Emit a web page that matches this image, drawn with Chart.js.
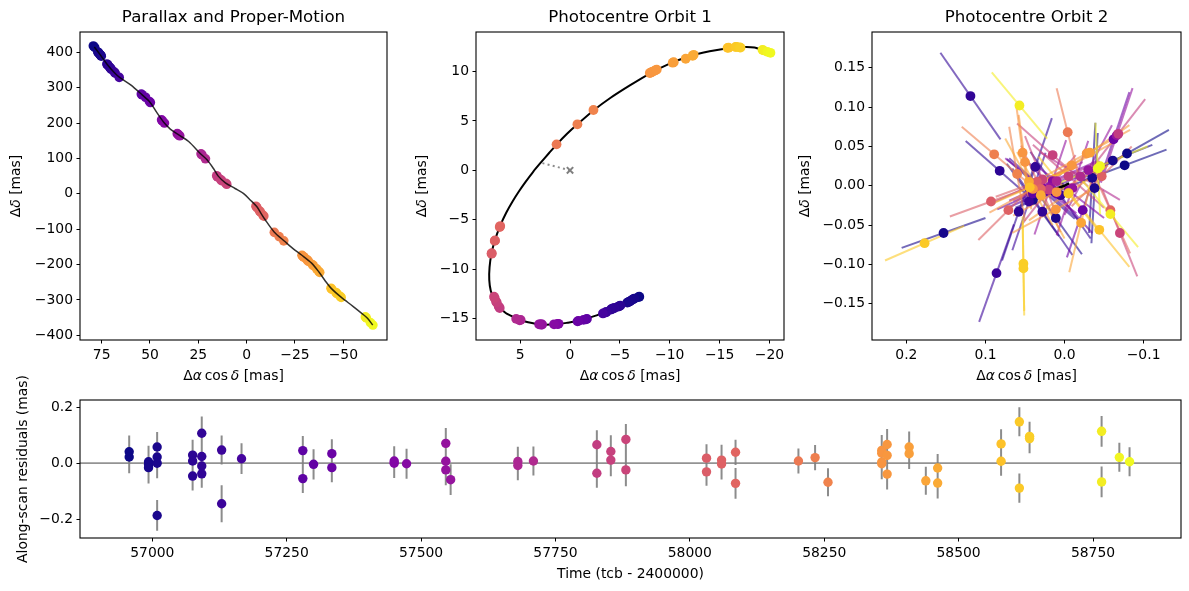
<!DOCTYPE html>
<html><head><meta charset="utf-8">
<script src="https://cdn.jsdelivr.net/npm/chart.js@4.4.1/dist/chart.umd.min.js"></script>
<style>
body{margin:0;background:#fff;width:1189px;height:591px;position:relative;overflow:hidden}
canvas{position:absolute}
</style></head><body>
<canvas id="p4" width="1185" height="228" style="left:4px;top:360px"></canvas>
<canvas id="p1" width="403" height="390" style="left:4px;top:0px"></canvas>
<canvas id="p2" width="394" height="390" style="left:410px;top:0px"></canvas>
<canvas id="p3" width="397" height="390" style="left:792px;top:0px"></canvas>
<script>
// ---------------- data ----------------
const times = [56957,56957,56993,56993,56993,57009,57009,57009,57009,57075,57075,57075,57092,57092,57092,57092,57129,57129,57166,
  57280,57280,57300,57334,57334,57450,57450,57473,57546,57546,57546,57555,57680,57680,57709,
  57827,57827,57853,57853,57881,57881,58031,58031,58059,58059,58085,58085,58202,58233,58257,
  58357,58357,58357,58357,58367,58367,58367,58408,58408,58439,58461,58461,58579,58579,58613,58613,58632,58632,58766,58766,58799,58818];
const residuals = [0.041,0.022,0.005,-0.005,-0.016,0.058,0.022,0.000,-0.187,0.029,0.008,-0.046,0.107,0.024,-0.010,-0.038,0.047,-0.145,0.016,
  0.045,-0.055,-0.004,0.034,-0.016,0.008,0.000,-0.002,0.071,0.007,-0.024,-0.059,0.006,-0.008,0.008,
  0.066,-0.036,0.042,0.011,0.085,-0.024,0.018,-0.031,0.011,-0.003,0.039,-0.072,0.008,0.020,-0.068,
  0.046,0.036,0.004,-0.002,0.067,0.028,-0.039,0.058,0.034,-0.063,-0.017,-0.071,0.069,0.007,0.148,-0.089,0.096,0.088,0.114,-0.067,0.021,0.005];
const resErrors = [0.058,0.058,0.057,0.057,0.057,0.054,0.054,0.054,0.055,0.055,0.055,0.052,0.060,0.060,0.060,0.050,0.052,0.066,0.055,
  0.052,0.052,0.054,0.052,0.052,0.053,0.053,0.054,0.055,0.055,0.055,0.055,0.053,0.053,0.052,
  0.052,0.052,0.058,0.058,0.055,0.058,0.050,0.050,0.055,0.055,0.045,0.055,0.045,0.045,0.050,
  0.055,0.055,0.055,0.055,0.055,0.055,0.055,0.055,0.055,0.050,0.050,0.055,0.052,0.052,0.052,0.052,0.052,0.052,0.055,0.055,0.052,0.052];

// Panel 1: parallax + proper motion positions
const pmRa = [79.3,78.6,77.0,76.7,76.4,75.9,75.6,75.4,75.2,72.3,72.0,71.7,70.9,70.6,70.3,70.0,68.4,68.0,65.9,
  54.5,54.1,52.3,50.3,49.8,44.0,43.6,42.5,35.9,35.5,35.1,34.6,23.6,23.1,21.3,
  15.5,15.1,13.4,13.0,10.8,10.3,-4.8,-5.3,-6.6,-7.1,-8.4,-8.9,-14.3,-16.8,-19.2,
  -28.6,-29.0,-29.4,-29.8,-31.2,-31.6,-32.0,-34.0,-34.5,-36.2,-37.3,-37.8,-43.6,-44.1,-46.2,-46.7,-48.4,-48.9,-61.4,-61.9,-64.0,-65.3];
const pmDec = [418,414,401,399,397,394,392,391,389,367,365,363,358,356,354,352,344,341,329,
  282,280,273,261,258,209,206,200,170,168,166,164,113,110,99,
  51,48,40,37,30,27,-35,-39,-48,-51,-60,-63,-109,-121,-133,
  -174,-176,-178,-180,-186,-189,-191,-200,-203,-212,-219,-222,-267,-270,-279,-282,-290,-293,-348,-351,-364,-371];
const pmModelRa = [78.8,75.6,72.0,68.5,65.9,60.0,54.3,50.0,46.5,43.0,39.5,35.3,30.0,24.0,20.5,17.0,14.7,11.0,6.0,1.7,-2.0,-5.2,-7.5,-9.4,-14.1,-19.8,-24.0,-28.4,-33.6,-37.5,-40.5,-43.5,-49.0,-55.0,-60.0,-62.5,-65.2];
const pmModelDec = [415,392,365,343,330,308,281,259,230,203,183,167,148,114,96,70,50,31,15,1,-18,-36,-56,-72,-107,-135,-155,-173,-196,-222,-245,-266,-293,-318,-340,-352,-371];

// Panel 2: photocentre orbit 1
const o1Ra = [-6.95,-6.85,-6.45,-6.35,-6.25,-6.05,-5.95,-5.85,-5.75,-5.05,-4.95,-4.85,-4.45,-4.3,-4.2,-4.1,-3.65,-3.55,-3.3,
  -1.7,-1.6,-1.35,-0.85,-0.75,1.15,1.25,1.6,2.8,2.9,3.0,3.1,4.95,5.05,5.4,
  7.05,7.15,7.35,7.42,7.55,7.62,7.87,7.85,7.55,7.52,7.05,7.0,1.35,-0.74,-2.35,
  -8.0,-8.1,-8.2,-8.3,-8.5,-8.6,-8.7,-10.3,-10.4,-11.6,-12.3,-12.4,-15.8,-15.9,-16.6,-16.7,-17.0,-17.1,-19.3,-19.4,-19.8,-20.1];
const o1Dec = [-12.8,-12.85,-13.0,-13.05,-13.1,-13.25,-13.3,-13.35,-13.4,-13.7,-13.75,-13.8,-13.95,-14.0,-14.05,-14.1,-14.35,-14.4,-14.5,
  -15.05,-15.1,-15.15,-15.25,-15.3,-15.55,-15.57,-15.6,-15.62,-15.62,-15.6,-15.6,-15.15,-15.2,-15.05,
  -13.95,-13.8,-13.4,-13.3,-12.95,-12.8,-8.45,-8.4,-7.15,-7.1,-5.75,-5.65,2.63,4.66,6.11,
  9.85,9.9,9.95,10.0,10.1,10.15,10.2,10.9,10.95,11.3,11.6,11.7,12.4,12.42,12.5,12.5,12.45,12.43,12.2,12.15,12.0,11.9];
const o1ModelRa = [-7.0,-6.09,-5.0,-3.9,-2.5,-0.9,0.3,1.43,2.94,4.2,5.18,6.0,6.45,6.95,7.4,7.7,7.95,8.1,8.07,7.88,7.55,7.0,6.4,5.78,5.1,4.44,3.7,2.94,2.1,1.33,0.3,-0.74,-2.41,-4.0,-6.0,-8.0,-10.0,-12.0,-14.0,-16.0,-17.5,-18.5,-19.3,-20.1];
const o1ModelDec = [-12.8,-13.24,-13.75,-14.2,-14.75,-15.24,-15.45,-15.6,-15.62,-15.4,-15.1,-14.7,-14.45,-13.98,-13.35,-12.8,-12.2,-11.1,-9.8,-8.45,-7.13,-5.6,-4.3,-3.18,-2.1,-1.15,-0.15,0.77,1.75,2.63,3.7,4.66,6.11,7.3,8.6,9.8,10.8,11.55,12.05,12.4,12.5,12.45,12.2,11.9];
const o1PeriRa = [0, 2.94];
const o1PeriDec = [0, 0.77];

// Panel 3: photocentre orbit 2 (point + along-scan half-vector)
const o2Ra = [-0.079,-0.076,0.153,-0.061,0.012,0.011,-0.038,-0.035,0.040,0.082,0.030,0.058,0.119,0.037,0.028,0.005,0.086,0.045,0.025,
  0.025,0.040,0.010,-0.062,-0.023,0.030,-0.005,0.015,-0.066,0.018,-0.010,-0.030,0.032,0.010,-0.020,
  -0.068,0.020,0.015,-0.005,-0.070,0.028,0.093,0.035,0.071,-0.047,-0.058,0.030,-0.004,0.089,0.060,
  0.053,0.050,0.040,0.010,-0.028,-0.009,0.011,-0.032,-0.005,-0.021,0.045,0.030,0.044,-0.044,0.177,-0.005,0.052,0.052,0.057,-0.058,-0.045,-0.042];
const o2Dec = [0.041,0.026,-0.060,0.032,-0.008,-0.041,-0.003,0.010,-0.018,0.019,-0.004,-0.033,0.114,0.024,-0.033,-0.012,-0.111,-0.020,-0.005,
  -0.007,-0.010,-0.010,0.059,-0.031,0.000,-0.006,0.006,0.064,-0.002,-0.003,0.020,0.005,0.006,0.012,
  0.066,-0.005,0.039,0.012,-0.060,0.008,-0.020,0.005,-0.031,0.012,-0.031,-0.004,0.068,0.040,0.015,
  0.042,0.030,-0.004,-0.008,0.041,0.026,-0.030,0.042,-0.009,-0.047,0.005,-0.012,-0.002,-0.056,-0.073,-0.010,-0.099,-0.105,0.102,-0.036,0.025,0.022];
const o2ScanRa = [0.053,0.053,0.053,0.050,0.050,0.033,-0.004,-0.004,0.033,0.043,0.043,-0.021,0.038,-0.021,0.038,0.038,-0.022,-0.021,0.045,
  0.045,0.045,0.045,0.020,0.020,0.045,0.045,0.055,0.020,0.020,0.020,-0.030,0.055,0.055,0.050,
  0.034,0.034,0.045,0.045,0.022,0.022,0.052,0.052,0.038,0.038,0.025,0.025,0.014,0.041,0.010,
  0.008,0.008,0.055,0.055,0.055,0.055,0.055,0.050,0.050,-0.015,0.030,0.030,0.050,0.038,0.050,0.038,0.001,0.001,0.035,0.035,0.060,0.003];
const o2ScanDec = [-0.030,-0.020,-0.019,-0.020,-0.020,0.046,0.070,0.070,0.046,0.038,0.038,0.062,0.055,0.062,0.055,0.055,0.062,0.062,0.040,
  -0.020,-0.020,0.050,-0.060,-0.060,0.035,0.035,-0.025,-0.060,-0.060,-0.060,0.057,-0.025,-0.025,0.030,
  -0.044,-0.044,0.040,0.040,0.055,0.055,-0.019,-0.019,-0.038,-0.038,0.055,0.055,0.056,0.035,0.060,
  0.060,0.060,-0.030,-0.030,-0.030,-0.030,-0.030,-0.035,-0.035,0.063,0.055,0.055,-0.022,0.047,-0.022,0.047,0.060,0.060,0.042,0.042,-0.025,0.058];
const o2ModelRa = [0.025,0.012,0.0,-0.006];
const o2ModelDec = [-0.008,-0.004,0.0,0.003];

// tick labels
const p1XTicks = [75,50,25,0,-25,-50];
const p1YTicks = [400,300,200,100,0,-100,-200,-300,-400];
const p2XTicks = [5,0,-5,-10,-15,-20];
const p2YTicks = [10,5,0,-5,-10,-15];
const p3XTicks = [0.2,0.1,0.0,-0.1];
const p3YTicks = [0.15,0.10,0.05,0.00,-0.05,-0.10,-0.15];
const p4XTicks = [57000,57250,57500,57750,58000,58250,58500,58750];
const p4YTicks = [0.2,0.0,-0.2];

// ---------------- style helpers ----------------
const PLASMA = [[13,8,135],[75,3,161],[125,3,168],[168,34,150],[203,70,121],[229,107,93],[248,148,65],[253,195,40],[240,249,33]];
function plasma(f, a){
  f = Math.min(1, Math.max(0, f));
  const p = f*(PLASMA.length-1);
  const i = Math.min(Math.floor(p), PLASMA.length-2);
  const u = p - i;
  const c = PLASMA[i].map((v,k)=>Math.round(v + (PLASMA[i+1][k]-v)*u));
  return `rgba(${c[0]},${c[1]},${c[2]},${a===undefined?1:a})`;
}
const tMin = Math.min(...times), tMax = Math.max(...times);
const colors = times.map(t => plasma((t-tMin)/(tMax-tMin)));
const colorsA = times.map(t => plasma((t-tMin)/(tMax-tMin), 0.6));

const FONT = "'DejaVu Sans', 'Liberation Sans', sans-serif";
Chart.defaults.font.family = FONT;
Chart.defaults.font.size = 13.9;
Chart.defaults.color = '#000';
const minus = s => String(s).replace('-', '\u2212');

function xAxis(min, max, ticks, fmt, title, reverse, padB){
  return {
    type:'linear', position:'bottom', min, max, reverse: !!reverse,
    afterBuildTicks: s => { s.ticks = ticks.map(v => ({value:v})); },
    afterFit: s => { s.height = 50; },
    ticks:{ callback: v => minus(fmt(v)), autoSkip:false, maxRotation:0, padding:3.5, color:'#000', font:{size:13.9} },
    grid:{ drawOnChartArea:false, drawTicks:true, tickLength:3.5, color:'#000', lineWidth:1 },
    border:{ display:false },
    title:{ display: !!title, text:title||'', color:'#000', font:{size:13.9}, padding:{top:0,bottom:padB||0} }
  };
}
function yAxis(min, max, ticks, fmt, title, width, padT){
  return {
    type:'linear', position:'left', min, max,
    afterBuildTicks: s => { s.ticks = ticks.map(v => ({value:v})); },
    afterFit: s => { s.width = width; },
    ticks:{ callback: v => minus(fmt(v)), autoSkip:false, padding:3.5, color:'#000', font:{size:13.9} },
    grid:{ drawOnChartArea:false, drawTicks:true, tickLength:3.5, color:'#000', lineWidth:1 },
    border:{ display:false },
    title:{ display: !!title, text:title||'', color:'#000', font:{size:13.9}, padding:{top:padT||0,bottom:0} }
  };
}
const boxPlugin = { id:'box', afterDatasetsDraw(chart){
  const {ctx, chartArea:a} = chart; ctx.save(); ctx.strokeStyle='#000'; ctx.lineWidth=1.1;
  ctx.strokeRect(a.left, a.top, a.right-a.left, a.bottom-a.top); ctx.restore(); } };

// axis titles with italic greek letters (mathtext style), drawn as canvas text
const XLAB = [{t:'Δ'},{t:'α',i:true},{t:'\u2009cos\u2009'},{t:'δ',i:true},{t:' [mas]'}];
const YLAB = [{t:'Δ'},{t:'δ',i:true},{t:' [mas]'}];
function richText(ctx, segs, cx, cy, rot){
  ctx.save(); ctx.translate(cx, cy); ctx.rotate(rot);
  ctx.textBaseline = 'middle'; ctx.fillStyle = '#000'; ctx.textAlign = 'left';
  const fontOf = s => (s.i ? 'italic ' : '') + '13.9px ' + FONT;
  const w = segs.map(s => { ctx.font = fontOf(s); return ctx.measureText(s.t).width; });
  let x = -w.reduce((a,b)=>a+b,0)/2;
  segs.forEach((s,k) => { ctx.font = fontOf(s); ctx.fillText(s.t, x, 0); x += w[k]; });
  ctx.restore();
}
function mathLabels(yTitleX){
  return { id:'mathLabels', afterDraw(chart){
    const a = chart.chartArea, ctx = chart.ctx;
    richText(ctx, XLAB, (a.left+a.right)/2, 376, 0);
    richText(ctx, YLAB, yTitleX, (a.top+a.bottom)/2, -Math.PI/2);
  } };
}
function baseOptions(title, scales, padRight, padTop){
  return {
    responsive:false, animation:false, events:[],
    layout:{ padding:{ left:0, right:padRight, top:padTop||0, bottom:0 } },
    plugins:{ legend:{display:false}, tooltip:{enabled:false},
      title:{ display: !!title, text: title||'', fullSize:false, color:'#000', font:{size:16.67, weight:'normal'}, padding:{top:8,bottom:4} } },
    scales
  };
}
const zip = (xs, ys) => xs.map((x,i)=>({x, y:ys[i]}));

// ---------------- Panel 1 ----------------
new Chart(document.getElementById('p1'), {
  type:'scatter',
  data:{ datasets:[
    { type:'line', data: zip(pmModelRa, pmModelDec), borderColor:'rgba(0,0,0,0.8)', borderWidth:1.5, pointRadius:0, tension:0.3, fill:false, order:0 },
    { data: zip(pmRa, pmDec), backgroundColor: colors, borderWidth:0, pointRadius:4.8, order:1 }
  ]},
  options: baseOptions('Parallax and Proper-Motion', {
    x: xAxis(-72.6, 86.2, p1XTicks, v=>String(v), null, true),
    y: yAxis(-413.3, 457.4, p1YTicks, v=>String(v), null, 76)
  }, 20),
  plugins:[boxPlugin, mathLabels(12.7)]
});

// ---------------- Panel 2 ----------------
new Chart(document.getElementById('p2'), {
  type:'scatter',
  data:{ datasets:[
    { data: zip(o1Ra, o1Dec), backgroundColor: colors, borderWidth:0, pointRadius:4.9, order:1 },
    { type:'line', data: zip(o1ModelRa, o1ModelDec), borderColor:'#000', borderWidth:2, pointRadius:0, tension:0.25, fill:false, order:2 },
    { type:'line', data: zip(o1PeriRa, o1PeriDec), borderColor:'rgba(128,128,128,0.9)', borderWidth:2, borderDash:[2,3.3], pointRadius:0, fill:false, order:3 },
    { data: [{x:0,y:0}], pointStyle:'crossRot', pointRadius:4.5, borderColor:'#808080', borderWidth:2, backgroundColor:'#808080', order:3 }
  ]},
  options: baseOptions('Photocentre Orbit 1', {
    x: xAxis(-21.46, 9.43, p2XTicks, v=>String(v), null, true),
    y: yAxis(-17.19, 14.01, p2YTicks, v=>String(v), null, 66)
  }, 20),
  plugins:[boxPlugin, mathLabels(12.7)]
});

// ---------------- Panel 3 ----------------
const p3Sets = [];
p3Sets.push({ data:[{x:0,y:0}], pointStyle:'crossRot', pointRadius:4.5, borderColor:'#808080', borderWidth:2, order:200 });
o2Ra.forEach((x,i)=>{
  p3Sets.push({ type:'line', data:[{x:x-o2ScanRa[i], y:o2Dec[i]-o2ScanDec[i]},{x:x+o2ScanRa[i], y:o2Dec[i]+o2ScanDec[i]}],
    borderColor: colorsA[i], borderWidth:2, pointRadius:0, fill:false, order: 100 - i*0.01 });
});
p3Sets.push({ type:'line', data: zip(o2ModelRa, o2ModelDec), borderColor:'#000', borderWidth:2.5, pointRadius:0, fill:false, order:2 });
p3Sets.push({ data: zip(o2Ra, o2Dec), backgroundColor: colors, borderWidth:0, pointRadius:4.9, order:1 });
new Chart(document.getElementById('p3'), {
  type:'scatter',
  data:{ datasets: p3Sets },
  options: baseOptions('Photocentre Orbit 2', {
    x: xAxis(-0.1473, 0.2435, p3XTicks, v=>v.toFixed(1), null, true),
    y: yAxis(-0.196, 0.1954, p3YTicks, v=>v.toFixed(2), null, 80)
  }, 8),
  plugins:[boxPlugin, mathLabels(13)]
});

// ---------------- Panel 4: residuals ----------------
const errSegs = [];
times.forEach((t,i)=>{
  errSegs.push({x:t, y:residuals[i]-resErrors[i]});
  errSegs.push({x:t, y:residuals[i]+resErrors[i]});
  errSegs.push({x:t, y:null});
});
new Chart(document.getElementById('p4'), {
  type:'scatter',
  data:{ datasets:[
    { data: zip(times, residuals), backgroundColor: colors, borderWidth:0, pointRadius:4.7, order:1 },
    { type:'line', data: errSegs, borderColor:'rgba(128,128,128,0.9)', borderWidth:2, pointRadius:0, spanGaps:false, fill:false, order:2 },
    { type:'line', data: [{x:56865.5,y:0},{x:58913.7,y:0}], borderColor:'rgba(128,128,128,0.85)', borderWidth:1.8, pointRadius:0, fill:false, order:3 }
  ]},
  options: baseOptions(null, {
    x: xAxis(56865.5, 58913.7, p4XTicks, v=>String(v), 'Time (tcb - 2400000)', false, 5.35),
    y: yAxis(-0.2675, 0.226, p4YTicks, v=>v.toFixed(1), 'Along-scan residuals (mas)', 76, 11.35)
  }, 8, 40),
  plugins:[boxPlugin]
});
</script>
</body></html>
